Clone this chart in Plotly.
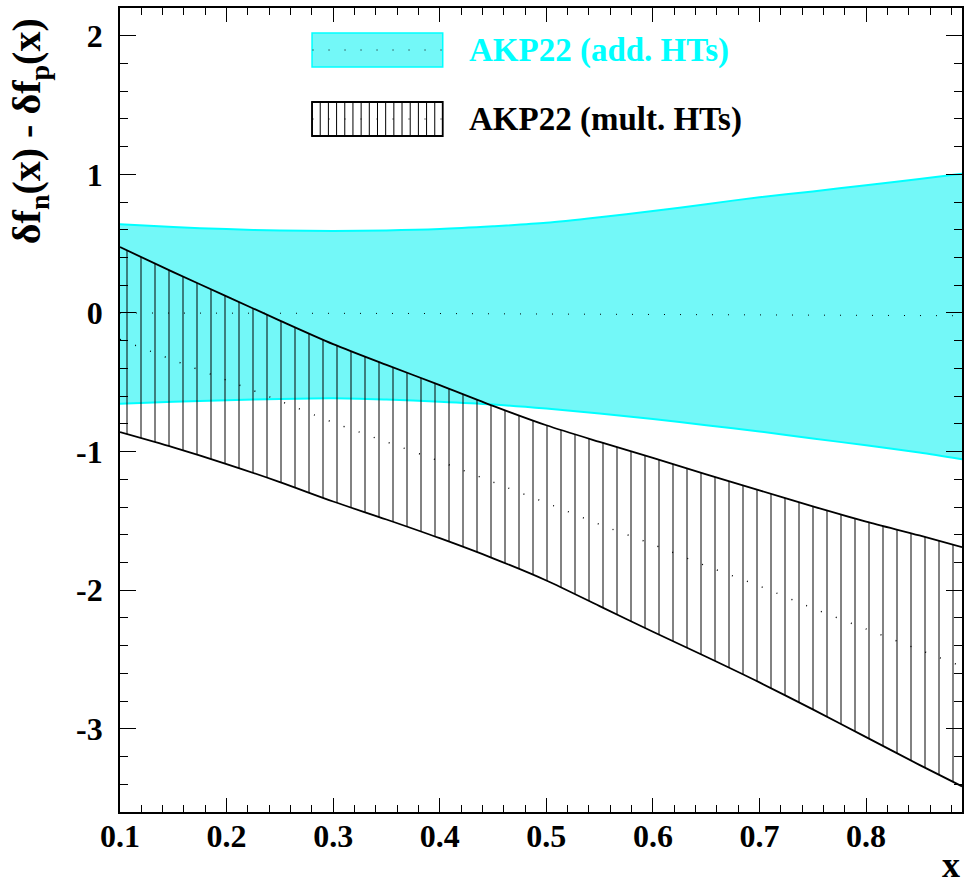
import plotly.graph_objects as go

# ---- data ----
x_vals = [0.10, 0.15, 0.20, 0.25, 0.30, 0.35, 0.40, 0.45, 0.50, 0.55,
          0.60, 0.65, 0.70, 0.75, 0.80, 0.85, 0.89]

add_upper = [0.64, 0.62, 0.605, 0.595, 0.592, 0.595, 0.605, 0.625, 0.65, 0.69,
             0.735, 0.785, 0.835, 0.877, 0.922, 0.966, 1.005]
add_lower = [-0.655, -0.64, -0.63, -0.62, -0.615, -0.625, -0.64, -0.66, -0.69, -0.725,
             -0.765, -0.81, -0.855, -0.905, -0.955, -1.007, -1.055]
add_center = [0.0, 0.0, 0.0, 0.0, 0.0, -0.002, -0.004, -0.006, -0.008, -0.01,
              -0.012, -0.014, -0.016, -0.017, -0.018, -0.019, -0.02]

mult_upper = [0.475, 0.295, 0.12, -0.055, -0.225, -0.375, -0.52, -0.67, -0.81, -0.93,
              -1.045, -1.165, -1.28, -1.395, -1.505, -1.605, -1.69]
mult_lower = [-0.86, -0.97, -1.09, -1.22, -1.36, -1.49, -1.625, -1.77, -1.93, -2.115,
              -2.30, -2.48, -2.665, -2.86, -3.06, -3.26, -3.415]
mult_center = [-0.19, -0.34, -0.485, -0.635, -0.79, -0.93, -1.07, -1.22, -1.37, -1.525,
               -1.67, -1.825, -1.97, -2.13, -2.28, -2.43, -2.55]

x_ticks = [0.1, 0.2, 0.3, 0.4, 0.5, 0.6, 0.7, 0.8]
y_ticks = [-3, -2, -1, 0, 1, 2]
labels = ["AKP22 (add. HTs)", "AKP22 (mult. HTs)"]

CYAN = "#00ffff"
CYAN_FILL = "rgb(115,248,248)"
FONT = "Liberation Serif"
SM = 0.8

fig = go.Figure()

# additive band
fig.add_trace(go.Scatter(x=x_vals, y=add_lower, mode="lines",
                         line=dict(color=CYAN, width=2, shape="spline", smoothing=SM),
                         hoverinfo="skip", showlegend=False))
fig.add_trace(go.Scatter(x=x_vals, y=add_upper, mode="lines", fill="tonexty",
                         fillcolor=CYAN_FILL,
                         line=dict(color=CYAN, width=2, shape="spline", smoothing=SM),
                         hoverinfo="skip", showlegend=False))

# multiplicative band (hatched vertical lines)
fig.add_trace(go.Scatter(x=x_vals, y=mult_lower, mode="lines",
                         line=dict(color="black", width=1.8, shape="spline", smoothing=SM),
                         hoverinfo="skip", showlegend=False))
fig.add_trace(go.Scatter(x=x_vals, y=mult_upper, mode="lines", fill="tonexty",
                         fillcolor="rgba(0,0,0,0)",
                         fillpattern=dict(shape="|", fgcolor="black", bgcolor="rgba(0,0,0,0)",
                                          size=14, solidity=0.14, fillmode="overlay"),
                         line=dict(color="black", width=1.8, shape="spline", smoothing=SM),
                         hoverinfo="skip", showlegend=False))

# central lines (dotted)
fig.add_trace(go.Scatter(x=x_vals, y=add_center, mode="lines",
                         line=dict(color="black", width=1, dash="1px,15px"),
                         hoverinfo="skip", showlegend=False))
fig.add_trace(go.Scatter(x=x_vals, y=mult_center, mode="lines",
                         line=dict(color="black", width=1.4, dash="1px,15px", shape="spline", smoothing=SM),
                         hoverinfo="skip", showlegend=False))

tickfont = dict(family=FONT, size=32, color="black", weight="bold")
fig.update_xaxes(range=[0.1, 0.89], tickvals=x_ticks, ticktext=[f"{v:.1f}" for v in x_ticks],
                 ticks="inside", ticklen=14, tickwidth=1.2, tickcolor="black",
                 minor=dict(dtick=0.02, tick0=0.1, ticks="inside", ticklen=7, tickwidth=1, tickcolor="black"),
                 showline=True, linecolor="black", linewidth=1.8, mirror="allticks",
                 showgrid=False, zeroline=False, tickfont=tickfont, ticklabelstandoff=-5)
fig.update_yaxes(range=[-3.6, 2.2], tickvals=y_ticks, ticktext=[str(v) for v in y_ticks],
                 ticks="inside", ticklen=16, tickwidth=1.2, tickcolor="black",
                 minor=dict(dtick=0.2, tick0=0, ticks="inside", ticklen=8, tickwidth=1, tickcolor="black"),
                 showline=True, linecolor="black", linewidth=1.8, mirror="allticks",
                 showgrid=False, zeroline=False, tickfont=tickfont, ticklabelstandoff=9)

# ---- legend drawn as shapes ----
W, H = 965, 885
L, R, T, B = 120, 964, 8, 812
def px(xp):
    return (xp - L) / (R - L)
def py(yp):
    return (B - yp) / (B - T)

shapes = []
# cyan box
shapes.append(dict(type="rect", xref="paper", yref="paper",
                   x0=px(312.5), x1=px(443.5), y0=py(67), y1=py(33),
                   fillcolor=CYAN_FILL, line=dict(color=CYAN, width=1.5), layer="above"))
shapes.append(dict(type="line", xref="paper", yref="paper",
                   x0=px(313), x1=px(443), y0=py(50), y1=py(50),
                   line=dict(color="black", width=1, dash="1px,15px"), layer="above"))
# hatched box
shapes.append(dict(type="rect", xref="paper", yref="paper",
                   x0=px(312.5), x1=px(443.5), y0=py(136), y1=py(102),
                   fillcolor="white", line=dict(color="black", width=1.8), layer="above"))
xp = 312.5
while xp < 443:
    shapes.append(dict(type="line", xref="paper", yref="paper",
                       x0=px(xp), x1=px(xp), y0=py(136), y1=py(102),
                       line=dict(color="black", width=1), layer="above"))
    xp += 8.2
shapes.append(dict(type="line", xref="paper", yref="paper",
                   x0=px(313), x1=px(443), y0=py(119), y1=py(119),
                   line=dict(color="black", width=1, dash="1px,15px"), layer="above"))

annotations = [
    dict(text="<b>" + labels[0] + "</b>", xref="paper", yref="paper", x=px(468), y=py(50),
         xanchor="left", yanchor="middle", showarrow=False,
         font=dict(family=FONT, size=33, color=CYAN)),
    dict(text="<b>" + labels[1] + "</b>", xref="paper", yref="paper", x=px(468), y=py(119),
         xanchor="left", yanchor="middle", showarrow=False,
         font=dict(family=FONT, size=33, color="black")),
    dict(text="<b>δf<sub>n</sub>(x) - δf<sub>p</sub>(x)</b>", xref="paper", yref="paper",
         x=px(29), y=py(131), xanchor="center", yanchor="middle", textangle=-90,
         showarrow=False, font=dict(family=FONT, size=40, color="black")),
    dict(text="<b>x</b>", xref="paper", yref="paper", x=px(953), y=py(865),
         xanchor="center", yanchor="middle", showarrow=False,
         font=dict(family=FONT, size=36, color="black")),
]

fig.update_layout(width=W, height=H, margin=dict(l=L, r=W - R, t=T, b=H - B),
                  paper_bgcolor="white", plot_bgcolor="white",
                  shapes=shapes, annotations=annotations, showlegend=False)

fig.write_html("out.html", config={"displayModeBar": False},
               post_script="document.body.style.margin='0';document.body.style.padding='0';"
                           "document.body.style.overflow='hidden';")
